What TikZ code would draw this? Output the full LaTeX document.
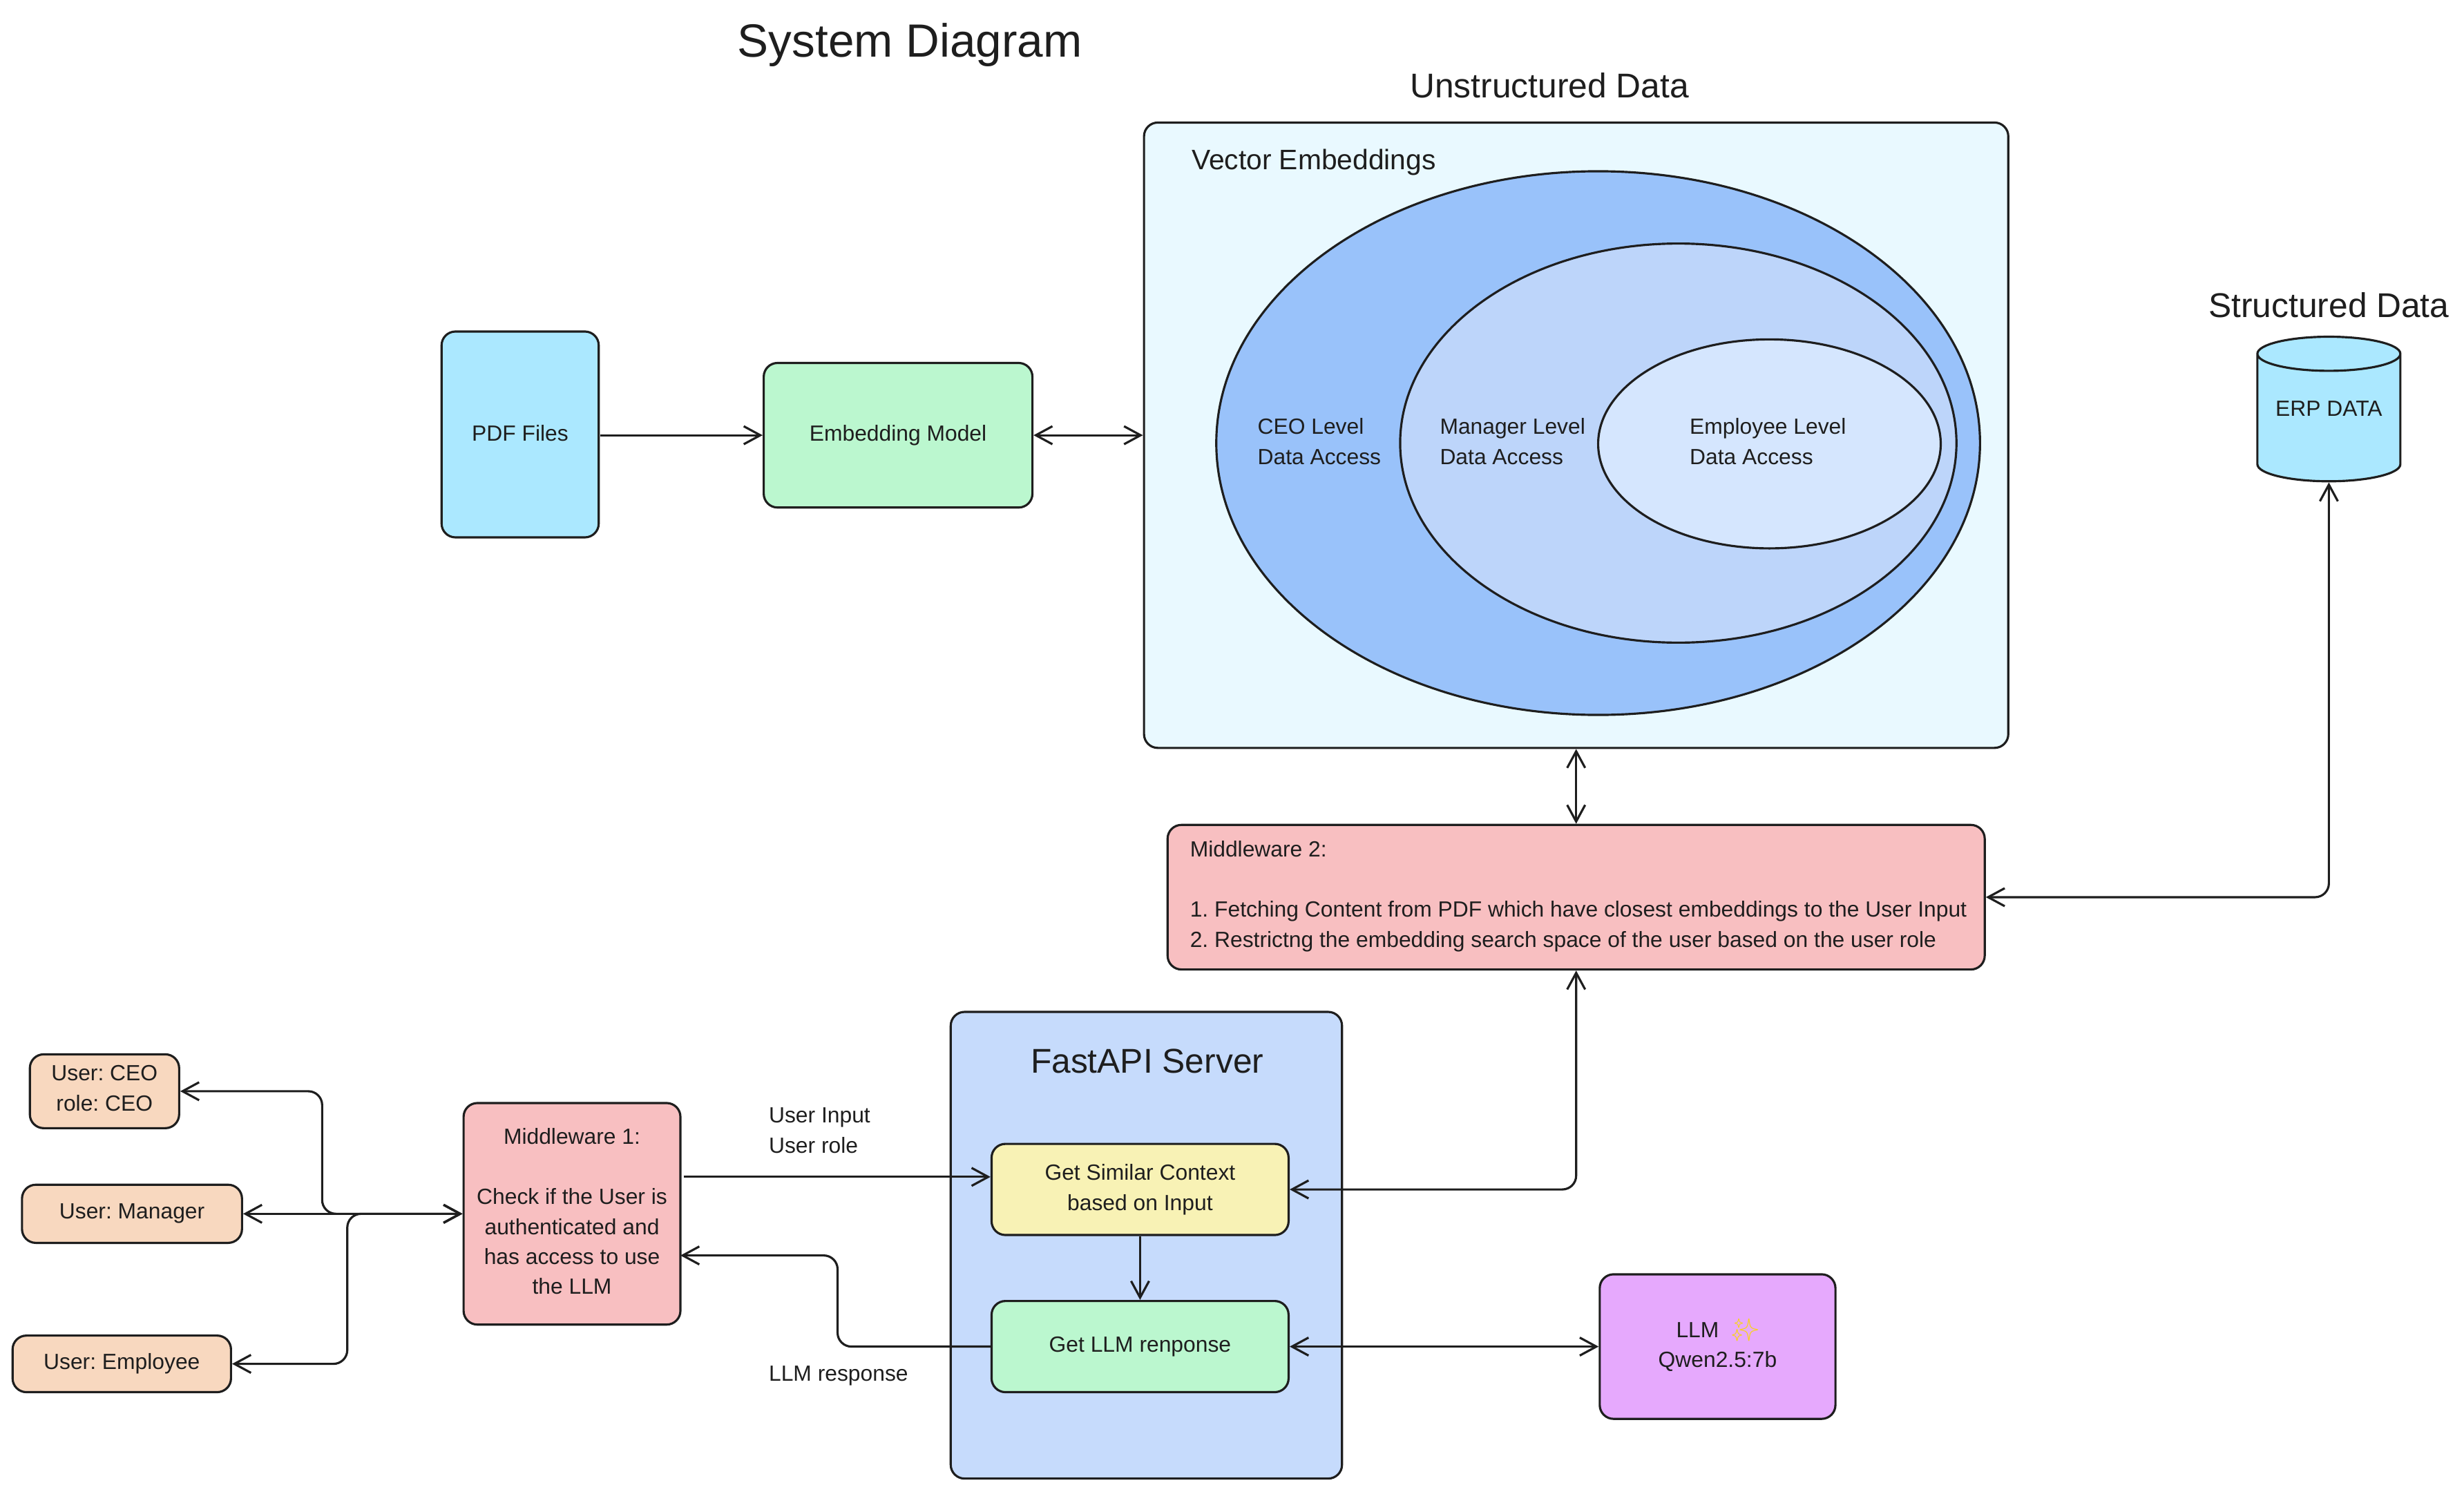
\documentclass[tikz,border=0pt]{standalone}
\usepackage{fontspec}
\setmainfont{Liberation Sans}
\newfontfamily\emojifont{Noto Emoji}
\usetikzlibrary{arrows.meta,shapes.geometric}
\frenchspacing
\newcommand{\pxu}{0.22749mm}
\definecolor{filecolor}{HTML}{ABE8FF}
\definecolor{modelcolor}{HTML}{BBF7CF}
\definecolor{vectorcolor}{HTML}{E9F9FF}
\definecolor{ceocolor}{HTML}{99C2FA}
\definecolor{managercolor}{HTML}{BDD5FA}
\definecolor{employeecolor}{HTML}{D5E6FE}
\definecolor{guardcolor}{HTML}{F8BFC1}
\definecolor{servercolor}{HTML}{C6DBFC}
\definecolor{contextcolor}{HTML}{F8F2B5}
\definecolor{llmcolor}{HTML}{E6A9FD}
\definecolor{usercolor}{HTML}{F8D8BF}
\definecolor{sparklecolor}{HTML}{F9D21E}
\definecolor{inkcolor}{HTML}{1E1E1E}
\tikzset{
	sized/.style 2 args={minimum width=#1*\pxu,minimum height=#2*\pxu},
	box/.style={draw=inkcolor,line width=0.9pt,rounded corners=0.2cm,inner sep=0pt,align=center,text=inkcolor,font=\fontsize{9.05}{12.35}\selectfont},
	blob/.style={ellipse,draw=inkcolor,line width=0.9pt,inner sep=0pt},
	caption/.style={inner sep=0pt,align=left,text=inkcolor,font=\fontsize{9.05}{12.35}\selectfont},
	heading/.style={inner sep=0pt,text=inkcolor,font=\fontsize{14.15}{17}\selectfont},
	link/.style={draw=inkcolor,line width=0.9pt,rounded corners=0.2cm,-{Straight Barb[length=0.24cm,width=0.26cm]}},
	twolink/.style={link,{Straight Barb[length=0.24cm,width=0.26cm]}-{Straight Barb[length=0.24cm,width=0.26cm]}}
}
\begin{document}
\begin{tikzpicture}[x=\pxu,y=-\pxu]
	\useasboundingbox (0,0) rectangle (1568,950.4);
	\node [heading,font=\fontsize{19.2}{22}\selectfont] (title) at (579,28.5) {System Diagram};
	\node [heading] (unstructured) at (986,54.5) {Unstructured Data};
	\node [heading] (structured) at (1482,194) {Structured Data};

	\node [box,fill=vectorcolor,sized={550}{398}] (vector) at (1003,277) {};
	\node [caption,anchor=west,font=\fontsize{11.6}{14}\selectfont] (vectorname) at (758,103.5) {Vector Embeddings};
	\node [blob,fill=ceocolor,sized={486}{346}] (ceo) at (1017,282) {};
	\node [blob,fill=managercolor,sized={354}{254}] (manager) at (1068,282) {};
	\node [blob,fill=employeecolor,sized={218}{133}] (employee) at (1126,282.5) {};
	\node [caption,anchor=west] (ceoname) at (800,281) {CEO Level\\Data Access};
	\node [caption,anchor=west] (managername) at (916,281) {Manager Level\\Data Access};
	\node [caption,anchor=west] (employeename) at (1075,281) {Employee Level\\Data Access};

	\node [box,fill=filecolor,sized={100}{131}] (pdf) at (331,276.5) {};
	\node [caption] (pdfname) at (331,275.5) {PDF Files};
	\node [box,fill=modelcolor,sized={171}{92}] (embed) at (571.5,277) {Embedding Model};
	\node [cylinder,shape border rotate=90,aspect=0.32,draw=inkcolor,line width=0.9pt,fill=filecolor,inner sep=0pt,font=\fontsize{9.05}{12.35}\selectfont,sized={91}{92},anchor=south] (erp) at (1482,307) {\phantom{ERP DATA}};
	\node [caption,align=center] (erpname) at (1482,260) {ERP DATA};

	\node [box,fill=guardcolor,sized={520}{92}] (guardtwo) at (1003,571) {};
	\node [caption,anchor=west] (guardtwotext) at (757,570.5) {Middleware 2:\\[12.35pt]1. Fetching Content from PDF which have closest embeddings to the User Input\\2. Restrictng the embedding search space of the user based on the user role};

	\node [box,fill=servercolor,sized={249}{297}] (server) at (729.5,792.5) {};
	\node [heading] (servername) at (730,675.5) {FastAPI Server};
	\node [box,fill=contextcolor,sized={189}{58}] (context) at (725.5,757) {Get Similar Context\\based on Input};
	\node [box,fill=modelcolor,sized={189}{58}] (answer) at (725.5,857) {Get LLM renponse};
	\node [box,fill=llmcolor,sized={150}{92}] (llm) at (1093,857) {};
	\node [caption,align=center] (llmname) at (1093,856) {LLM\ \ \textcolor{sparklecolor}{\emojifont ✨}\\Qwen2.5:7b};

	\node [box,fill=guardcolor,sized={138}{141}] (guardone) at (364,772.5) {};
	\node [caption,align=center] (guardonetext) at (364,771) {Middleware 1:\\[12.35pt]Check if the User is\\authenticated and\\has access to use\\the LLM};
	\node [box,fill=usercolor,sized={95}{47}] (userceo) at (66.5,694.5) {};
	\node [caption,align=center] (userceoname) at (66.5,692.5) {User: CEO\\role: CEO};
	\node [box,fill=usercolor,sized={140}{37}] (usermanager) at (84,772.5) {User: Manager};
	\node [box,fill=usercolor,sized={139}{36}] (useremployee) at (77.5,868) {User: Employee};

	\node [caption,anchor=west] (inputname) at (489,719.5) {User Input\\User role};
	\node [caption,anchor=west] (responsename) at (489,875.5) {LLM response};

	\coordinate (ceobend) at (205,772.5);
	\coordinate (employeebend) at (221,772.5);
	\coordinate (guardout) at (435,749);
	\coordinate (guardback) at (433,799);
	\coordinate (answerbend) at (533,799);
	\coordinate (pdfout) at (382,277);

	\draw [link] (pdfout) -- (embed.west);
	\draw [twolink] (embed.east) -- (vector.west);
	\draw [twolink] (vector.south) -- (guardtwo.north);
	\draw [twolink] (guardtwo.east) -| (erp.south);
	\draw [twolink] (context.east) -| (guardtwo.south);
	\draw [link] (context.south) -- (answer.north);
	\draw [twolink] (answer.east) -- (llm.west);
	\draw [link] (guardout) -- (guardout -| context.west);
	\draw [link] (answer.west) -| (answerbend) -- (guardback);
	\draw [twolink] (guardone.west) -- (usermanager.east);
	\draw [twolink] (guardone.west) -- (ceobend) |- (userceo.east);
	\draw [twolink] (guardone.west) -- (employeebend) |- (useremployee.east);
\end{tikzpicture}
\end{document}
